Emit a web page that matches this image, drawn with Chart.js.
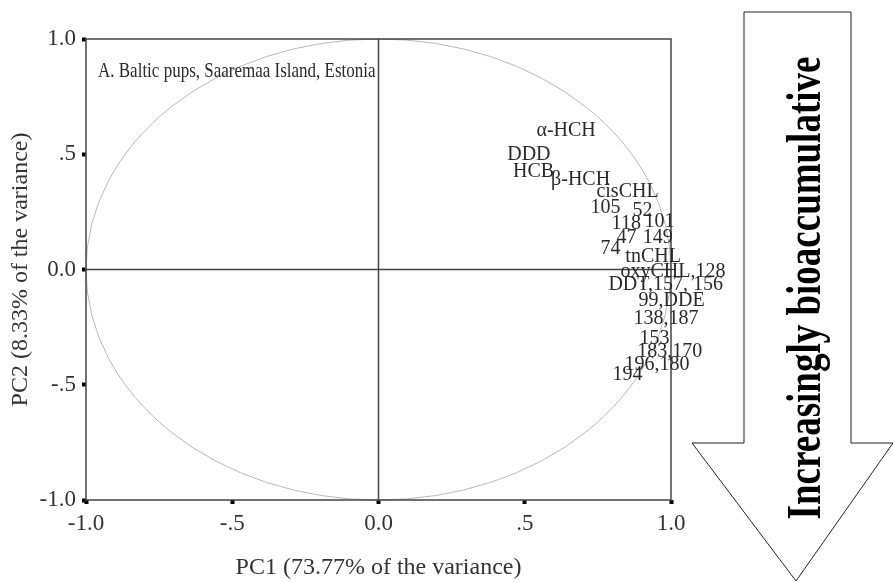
<!DOCTYPE html>
<html>
<head>
<meta charset="utf-8">
<script src="https://cdn.jsdelivr.net/npm/chart.js@4.4.1/dist/chart.umd.min.js"></script>
<style>
  html, body { margin: 0; padding: 0; background: #fff; }
  #wrap { width: 893px; height: 582px; position: relative; }
</style>
</head>
<body>
<div id="wrap"><canvas id="pcaChart"></canvas></div>
<script>
// component loadings (PC1, PC2)
const labels = ["α-HCH", "DDD", "HCB", "β-HCH", "cisCHL", "105", "52", "118", "101", "47", "149", "74",
  "tnCHL", "oxyCHL,128", "DDT,157, 156", "99,DDE", "138,187", "153", "183,170", "196,180", "194"];
const pc1 = [0.54, 0.44, 0.46, 0.59, 0.745, 0.725, 0.868, 0.797, 0.909, 0.814, 0.903, 0.759,
  0.844, 0.827, 0.786, 0.889, 0.872, 0.892, 0.885, 0.841, 0.80];
const pc2 = [0.604, 0.50, 0.422, 0.391, 0.339, 0.27, 0.257, 0.20, 0.209, 0.139, 0.139, 0.091,
  0.057, -0.009, -0.065, -0.135, -0.213, -0.30, -0.357, -0.413, -0.457];
const tickValues = [-1, -0.5, 0, 0.5, 1];
const tickLabels = ["-1.0", "-.5", "0.0", ".5", "1.0"];

const serif = '"Liberation Serif", "Times New Roman", serif';
Chart.defaults.font.family = serif;
Chart.defaults.color = '#333';

const points = pc1.map((x, i) => ({ x: x, y: pc2[i] }));

// frame, zero lines, unit circle, point labels and the side arrow
const decor = {
  id: 'decor',
  beforeDatasetsDraw(chart) {
    const { ctx, chartArea: a, scales: { x, y } } = chart;
    ctx.save();
    // unit circle
    ctx.strokeStyle = '#b8b8b8';
    ctx.lineWidth = 1;
    ctx.beginPath();
    ctx.ellipse(x.getPixelForValue(0), y.getPixelForValue(0),
      (x.getPixelForValue(1) - x.getPixelForValue(-1)) / 2,
      (y.getPixelForValue(-1) - y.getPixelForValue(1)) / 2, 0, 0, Math.PI * 2);
    ctx.stroke();
    // zero lines
    ctx.strokeStyle = '#444';
    ctx.lineWidth = 1.5;
    ctx.beginPath();
    ctx.moveTo(x.getPixelForValue(0), a.top);
    ctx.lineTo(x.getPixelForValue(0), a.bottom);
    ctx.moveTo(a.left, y.getPixelForValue(0));
    ctx.lineTo(a.right, y.getPixelForValue(0));
    ctx.stroke();
    // frame
    ctx.strokeRect(a.left, a.top, a.right - a.left, a.bottom - a.top);
    ctx.restore();
  },
  afterDatasetsDraw(chart) {
    const { ctx, chartArea: a } = chart;
    const meta = chart.getDatasetMeta(0);
    ctx.save();
    ctx.fillStyle = '#2a2a2a';
    ctx.font = '20px ' + serif;
    ctx.textAlign = 'left';
    ctx.textBaseline = 'middle';
    meta.data.forEach((pt, i) => ctx.fillText(labels[i], pt.x, pt.y));
    ctx.save();
    ctx.translate(a.left + 12, 72);
    ctx.scale(1, 1.2);
    ctx.font = '17px ' + serif;
    ctx.fillText('A. Baltic pups, Saaremaa Island, Estonia', 0, 0);
    ctx.restore();

    // arrow
    ctx.strokeStyle = '#222';
    ctx.lineWidth = 1;
    ctx.beginPath();
    ctx.moveTo(744, 12);
    ctx.lineTo(851, 12);
    ctx.lineTo(851, 443);
    ctx.lineTo(893, 443);
    ctx.lineTo(796, 581);
    ctx.lineTo(692, 443);
    ctx.lineTo(744, 443);
    ctx.closePath();
    ctx.stroke();
    ctx.translate(820, 288);
    ctx.rotate(-Math.PI / 2);
    ctx.scale(1, 1.3);
    ctx.fillStyle = '#000';
    ctx.font = 'bold 37px ' + serif;
    ctx.textAlign = 'center';
    ctx.textBaseline = 'alphabetic';
    ctx.fillText('Increasingly bioaccumulative', 0, 0);
    ctx.restore();
  }
};

new Chart(document.getElementById('pcaChart'), {
  type: 'scatter',
  data: {
    datasets: [{
      data: points,
      pointRadius: 0,
      pointHoverRadius: 0
    }]
  },
  options: {
    responsive: true,
    maintainAspectRatio: false,
    animation: false,
    layout: { padding: { top: 39, right: 222, left: 0, bottom: 0 } },
    scales: {
      x: {
        type: 'linear',
        min: -1, max: 1,
        afterBuildTicks: s => { s.ticks = tickValues.map(v => ({ value: v })); },
        afterFit: s => { s.height = 82; },
        grid: { drawOnChartArea: false, tickLength: 4, tickWidth: 4, tickColor: '#000' },
        border: { display: false },
        ticks: {
          padding: 6,
          font: { size: 23 },
          callback: v => tickLabels[tickValues.indexOf(v)]
        },
        title: { display: true, text: 'PC1 (73.77% of the variance)', font: { size: 24 }, padding: { top: 4, bottom: 0 } }
      },
      y: {
        type: 'linear',
        min: -1, max: 1,
        afterBuildTicks: s => { s.ticks = tickValues.map(v => ({ value: v })); },
        afterFit: s => { s.width = 86; },
        grid: { drawOnChartArea: false, tickLength: 4, tickWidth: 4, tickColor: '#000' },
        border: { display: false },
        ticks: {
          padding: 6,
          font: { size: 23 },
          callback: v => tickLabels[tickValues.indexOf(v)]
        },
        title: { display: true, text: 'PC2 (8.33% of the variance)', font: { size: 24 }, padding: { top: 6, bottom: 4 } }
      }
    },
    plugins: {
      legend: { display: false },
      tooltip: { enabled: false }
    }
  },
  plugins: [decor]
});
</script>
</body>
</html>
